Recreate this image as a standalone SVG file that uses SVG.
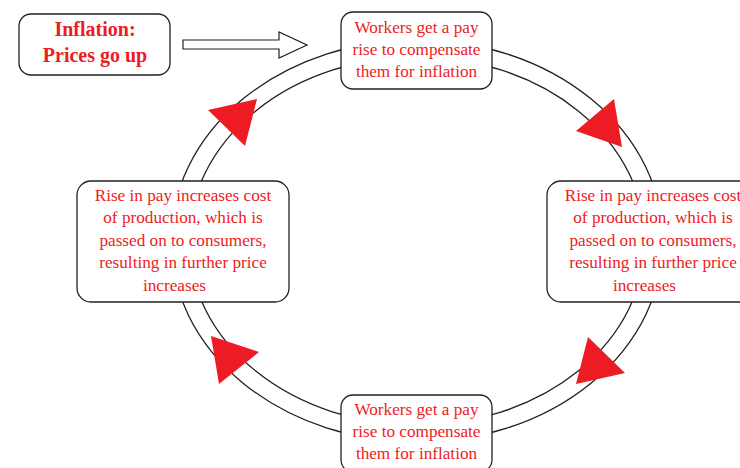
<svg xmlns="http://www.w3.org/2000/svg" width="740" height="468" viewBox="0 0 740 468">
  <style>
    .box { fill: #ffffff; stroke: #231f20; stroke-width: 1.3; }
    .ring { fill: none; stroke: #231f20; stroke-width: 1.3; }
    .head { fill: #ed1c24; stroke: none; }
    .lbl { font-family: "Liberation Serif", "Times New Roman", serif; font-size: 17.2px; fill: #ed1c24; text-anchor: middle; }
    .title { font-family: "Liberation Serif", "Times New Roman", serif; font-size: 20px; font-weight: bold; fill: #ed1c24; text-anchor: middle; }
  </style>
  <rect width="740" height="468" fill="#ffffff"/>

  <!-- cycle ring and arrowheads -->
  <g id="connectors">
    <ellipse class="ring" cx="417" cy="241" rx="246" ry="201"/>
    <ellipse class="ring" cx="417" cy="241" rx="228" ry="184"/>
    <polygon class="head" points="576,131 614,99 622,147"/>
    <polygon class="head" points="588,337 625,373 576,384"/>
    <polygon class="head" points="211,336 259,352 219,384"/>
    <polygon class="head" points="208,110 257,99 245,146"/>
    <!-- hollow block arrow from the start box -->
    <polygon points="183,40 279,40 279,32 307,45 279,58 279,49 183,49" fill="#ffffff" stroke="#231f20" stroke-width="1.2"/>
  </g>

  <g id="start">
    <rect class="box" x="19" y="14" width="151" height="61" rx="12"/>
    <text class="title" x="95" y="36">Inflation:</text>
    <text class="title" x="95" y="62">Prices go up</text>
  </g>

  <g id="pay-rise-top">
    <rect class="box" x="341" y="12" width="151" height="77" rx="12"/>
    <text class="lbl" x="416.5" y="33">Workers get a pay</text>
    <text class="lbl" x="416.5" y="55">rise to compensate</text>
    <text class="lbl" x="416.5" y="77">them for inflation</text>
  </g>

  <g id="cost-right">
    <rect class="box" x="547" y="181" width="212" height="121" rx="14"/>
    <text class="lbl" x="653" y="201">Rise in pay increases cost</text>
    <text class="lbl" x="653" y="223">of production, which is</text>
    <text class="lbl" x="653" y="246">passed on to consumers,</text>
    <text class="lbl" x="653" y="268">resulting in further price</text>
    <text class="lbl" x="644.5" y="291">increases</text>
  </g>

  <g id="pay-rise-bottom">
    <rect class="box" x="341" y="395" width="151" height="77" rx="12"/>
    <text class="lbl" x="416.5" y="415">Workers get a pay</text>
    <text class="lbl" x="416.5" y="437">rise to compensate</text>
    <text class="lbl" x="416.5" y="459">them for inflation</text>
  </g>

  <g id="cost-left">
    <rect class="box" x="77" y="181" width="212" height="121" rx="14"/>
    <text class="lbl" x="183" y="201">Rise in pay increases cost</text>
    <text class="lbl" x="183" y="223">of production, which is</text>
    <text class="lbl" x="183" y="246">passed on to consumers,</text>
    <text class="lbl" x="183" y="268">resulting in further price</text>
    <text class="lbl" x="174.5" y="291">increases</text>
  </g>
</svg>
